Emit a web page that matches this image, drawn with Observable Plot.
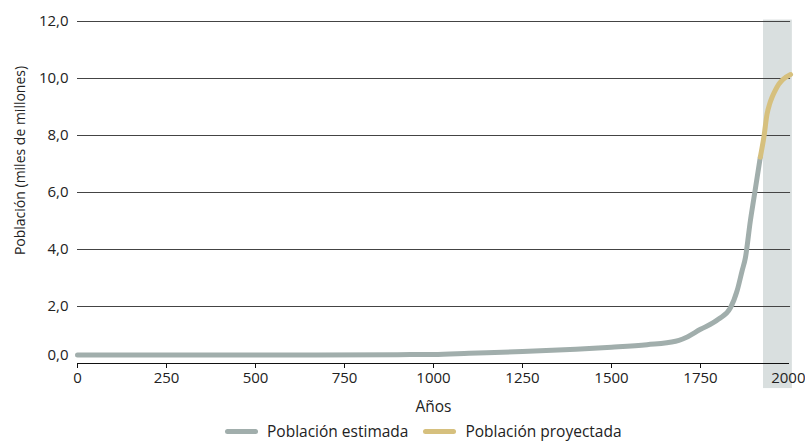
<!DOCTYPE html>
<html>
<head>
<meta charset="utf-8">
<script src="https://cdn.jsdelivr.net/npm/d3@7"></script>
<script src="https://cdn.jsdelivr.net/npm/@observablehq/plot@0.6"></script>
<style>
  body { margin: 0; background: #fff; font-family: "Open Sans", sans-serif; color: #222; }
  #wrap { position: relative; width: 805px; height: 441px; overflow: hidden; }
  #wrap svg { overflow: visible; }
  .legend { position: absolute; left: 225px; top: 423px; display: flex; align-items: center; font-size: 15.5px; line-height: 17px; }
  .sw { display: inline-block; width: 33px; height: 5px; border-radius: 3px; margin-right: 9px; }
  .item { display: flex; align-items: center; margin-right: 15px; }
</style>
</head>
<body>
<div id="wrap"></div>
<script>
// Estimated population (miles de millones) by year
const estYears  = [0, 500, 900, 1000, 1100, 1250, 1400, 1500, 1600, 1680, 1700, 1750, 1800, 1834, 1853, 1867, 1876, 1890, 1900, 1918];
const estValues = [0.3, 0.3, 0.31, 0.32, 0.36, 0.42, 0.5, 0.57, 0.66, 0.78, 0.86, 1.2, 1.55, 1.95, 2.56, 3.26, 3.7, 5.0, 5.8, 7.24];
// Projected population
const projYears  = [1918, 1928, 1937, 1944, 1951, 1960, 1970, 1980, 1989, 2003];
const projValues = [7.24, 7.94, 8.76, 9.1, 9.34, 9.58, 9.8, 9.95, 10.04, 10.14];
// Shaded projection period
const shadeYears = [1927, 2008];
const shadeSpan = [-0.88, 12.05];
// Tick labels
const xTicks = [0, 250, 500, 750, 1000, 1250, 1500, 1750, 2000];
const yTicks = [0, 2, 4, 6, 8, 10, 12];
const seriesNames = ["Población estimada", "Población proyectada"];
const colors = ["#a1aeac", "#d6c07e"];
const xTitle = "Años";
const yTitle = "Población (miles de millones)";

const est = estYears.map((y, i) => ({year: y, value: estValues[i]}));
const proj = projYears.map((y, i) => ({year: y, value: projValues[i]}));
const fmtY = d => d.toFixed(1).replace(".", ",");
const lastX = xTicks[xTicks.length - 1];

const chart = Plot.plot({
  width: 805,
  height: 424,
  marginLeft: 77,
  marginRight: 16,
  marginTop: 21,
  marginBottom: 61,
  style: {fontFamily: "'Open Sans', sans-serif", fontSize: "15px", color: "#222", background: "#fff"},
  x: {domain: [0, 2000]},
  y: {domain: [0, 12]},
  marks: [
    Plot.rect([{x1: shadeYears[0], x2: shadeYears[1], y1: shadeSpan[0], y2: shadeSpan[1]}],
      {x1: "x1", x2: "x2", y1: "y1", y2: "y2", fill: "#d9dfdf"}),
    Plot.ruleY(yTicks.filter(d => d > 0), {x1: 0, x2: 2003, stroke: "#444", strokeWidth: 1}),
    Plot.ruleY([0], {x1: 0, x2: 2000, stroke: "#111", strokeWidth: 1}),
    Plot.axisX({ticks: xTicks.filter(d => d !== lastX), tickFormat: d => String(d), tickSize: 5, tickPadding: 4, label: null, stroke: "#111", fontSize: 15}),
    Plot.axisX({ticks: [lastX], tickFormat: d => String(d), tickSize: 5, tickPadding: 4, label: null, stroke: "#111", fontSize: 15, textAnchor: "end", dx: 16}),
    Plot.axisY({ticks: yTicks.filter(d => d > 0), tickFormat: fmtY, tickSize: 0, tickPadding: 9, label: null, fontSize: 15}),
    Plot.axisY({ticks: [0], tickFormat: fmtY, tickSize: 0, tickPadding: 9, dy: -8, label: null, fontSize: 15}),
    Plot.text([xTitle], {frameAnchor: "bottom", textAnchor: "middle", dy: 48, fontSize: 15.5, fill: "#222"}),
    Plot.text([yTitle], {frameAnchor: "left", textAnchor: "middle", dx: -57, dy: -32, rotate: -90, fontSize: 14, fill: "#222"}),
    Plot.line(est, {x: "year", y: "value", stroke: colors[0], strokeWidth: 5, curve: "monotone-x", strokeLinecap: "round", strokeLinejoin: "round"}),
    Plot.line(proj, {x: "year", y: "value", stroke: colors[1], strokeWidth: 5, curve: "monotone-x", strokeLinecap: "round", strokeLinejoin: "round"})
  ]
});

const wrap = document.getElementById("wrap");
wrap.appendChild(chart);
const legend = document.createElement("div");
legend.className = "legend";
seriesNames.forEach((name, i) => {
  const item = document.createElement("div");
  item.className = "item";
  const sw = document.createElement("span");
  sw.className = "sw";
  sw.style.background = colors[i];
  const t = document.createElement("span");
  t.textContent = name;
  item.appendChild(sw);
  item.appendChild(t);
  legend.appendChild(item);
});
wrap.appendChild(legend);
</script>
</body>
</html>
